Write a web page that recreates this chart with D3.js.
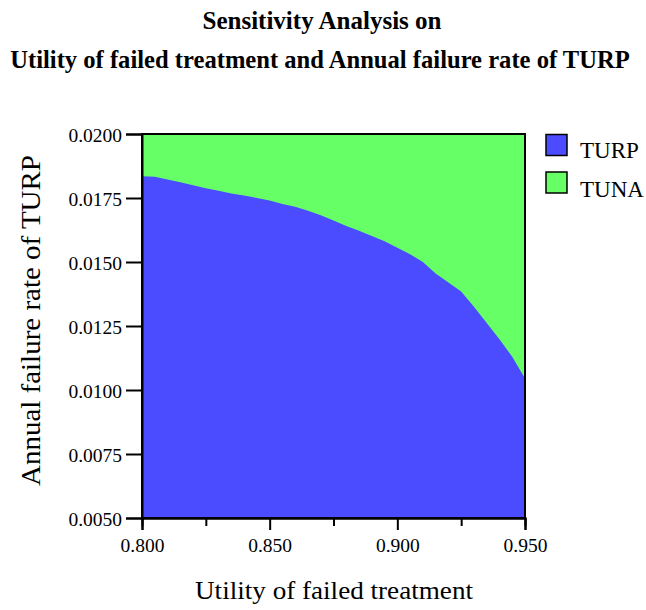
<!DOCTYPE html>
<html><head><meta charset="utf-8">
<script src="https://cdn.jsdelivr.net/npm/d3@7"></script>
<style>body{margin:0;background:#fff}svg{display:block}</style>
</head><body>
<script>
const utility = [0.800,0.805,0.810,0.815,0.820,0.825,0.830,0.835,0.840,0.845,0.850,0.855,0.860,0.865,0.870,0.875,0.880,0.885,0.890,0.895,0.900,0.905,0.910,0.915,0.920,0.925,0.930,0.935,0.940,0.945,0.950];
const threshold = [0.01835,0.01833,0.01822,0.01812,0.01800,0.01788,0.01778,0.01768,0.01760,0.01750,0.01740,0.01727,0.01716,0.01700,0.01683,0.01662,0.01641,0.01622,0.01602,0.01581,0.01556,0.01530,0.01500,0.01455,0.01420,0.01385,0.01325,0.01262,0.01198,0.01130,0.01045];
const xTicks = [0.800,0.850,0.900,0.950];
const xMinor = [0.825,0.875,0.925];
const yTicks = [0.0050,0.0075,0.0100,0.0125,0.0150,0.0175,0.0200];
const series = ["TURP","TUNA"];
const colors = ["#4b4bff","#66ff66"];

const W=646,H=610;
const svg=d3.select("body").append("svg").attr("width",W).attr("height",H);
const L=142,R=525,T=134,B=518;
const x=d3.scaleLinear().domain([0.8,0.95]).range([L,R]);
const y=d3.scaleLinear().domain([0.005,0.02]).range([B,T]);
const font="'Liberation Serif','Times New Roman',serif";

svg.append("rect").attr("x",L).attr("y",T).attr("width",R-L).attr("height",B-T).attr("fill",colors[1]);
const data=utility.map((u,i)=>({u,r:threshold[i]}));
svg.append("path").datum(data)
  .attr("d",d3.area().x(d=>x(d.u)).y0(y(0.005)).y1(d=>y(d.r)))
  .attr("fill",colors[0]);
svg.append("rect").attr("x",L).attr("y",T).attr("width",R-L).attr("height",B-T).attr("fill","none").attr("stroke","#000").attr("stroke-width",2);

const xa=svg.append("g").attr("transform",`translate(0,${B})`)
  .call(d3.axisBottom(x).tickValues(xTicks).tickFormat(d3.format(".3f")).tickSize(12));
const xm=svg.append("g").attr("transform",`translate(0,${B})`)
  .call(d3.axisBottom(x).tickValues(xMinor).tickFormat("").tickSize(8));
const ya=svg.append("g").attr("transform",`translate(${L},0)`)
  .call(d3.axisLeft(y).tickValues(yTicks).tickFormat(d3.format(".4f")).tickSize(16).tickPadding(4));
[xa,xm,ya].forEach(g=>{
  g.select(".domain").attr("stroke","#000").attr("stroke-width",2);
  g.selectAll(".tick line").attr("stroke","#000").attr("stroke-width",2);
  g.selectAll("text").attr("font-family",font).attr("font-size",19.5).attr("fill","#000");
});
xa.selectAll("text").attr("y",33.7).attr("dy","0");
ya.selectAll("text").attr("dy","0.4em");

svg.append("text").attr("x",322).attr("y",29).attr("text-anchor","middle")
  .attr("font-family",font).attr("font-weight","bold").attr("font-size",25).text("Sensitivity Analysis on");
svg.append("text").attr("x",320).attr("y",68).attr("text-anchor","middle")
  .attr("font-family",font).attr("font-weight","bold").attr("font-size",24.6).text("Utility of failed treatment and Annual failure rate of TURP");

svg.append("text").attr("x",334).attr("y",599).attr("text-anchor","middle")
  .attr("font-family",font).attr("font-size",25).attr("textLength",278).attr("lengthAdjust","spacingAndGlyphs")
  .text("Utility of failed treatment");
svg.append("text").attr("transform","translate(39.5,320.5) rotate(-90)").attr("text-anchor","middle")
  .attr("font-family",font).attr("font-size",26.5).attr("textLength",331).attr("lengthAdjust","spacingAndGlyphs")
  .text("Annual failure rate of TURP");

const lg=svg.append("g");
series.forEach((s,i)=>{
  lg.append("rect").attr("x",546).attr("y",134.5+i*37.5).attr("width",21).attr("height",21)
    .attr("fill",colors[i]).attr("stroke","#000").attr("stroke-width",1.5);
  lg.append("text").attr("x",580).attr("y",158.3+i*38.4).attr("font-family",font).attr("font-size",23).text(s);
});
</script>
</body></html>
